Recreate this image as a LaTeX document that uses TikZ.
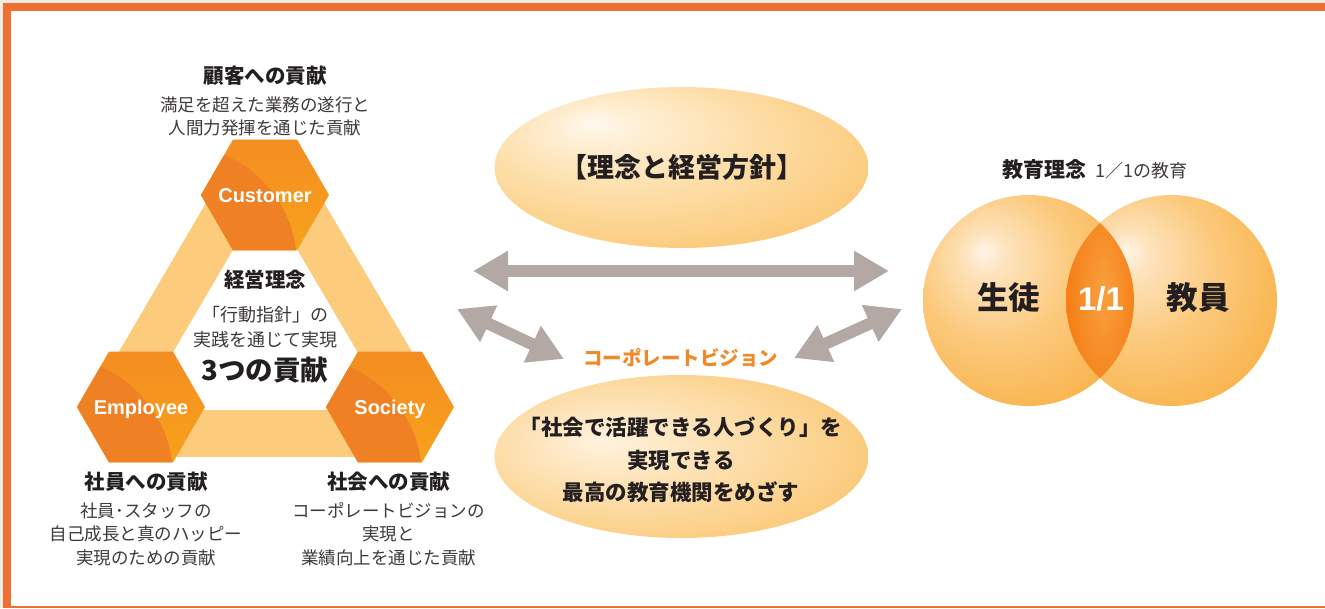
\documentclass[tikz,border=0pt]{standalone}
\usepackage{fontspec}
\usetikzlibrary{arrows.meta,shapes.geometric,calc}
\newfontfamily\jp{Noto Sans CJK JP}
\newfontfamily\lat{Liberation Sans}
\definecolor{frameor}{HTML}{F07033}
\definecolor{beige}{HTML}{F2ECE1}
\definecolor{band}{HTML}{FDCB7C}
\definecolor{hexA}{HTML}{F48D21}
\definecolor{hexB}{HTML}{F8A21C}
\definecolor{hexdark}{HTML}{EF8024}
\definecolor{arrowgray}{HTML}{B3A8A4}
\definecolor{txt}{HTML}{231F20}
\definecolor{txtl}{HTML}{3E3A39}
\definecolor{visor}{HTML}{F08A28}
\pgfdeclareradialshading{ellTop}{\pgfpoint{-12bp}{14bp}}{rgb(0bp)=(1,0.975,0.94); rgb(5bp)=(0.998,0.94,0.84); rgb(18bp)=(0.992,0.87,0.66); rgb(36bp)=(0.984,0.78,0.45); rgb(60bp)=(0.984,0.78,0.45)}
\pgfdeclareradialshading{ellBot}{\pgfpoint{-11bp}{5bp}}{rgb(0bp)=(1,0.95,0.87); rgb(8bp)=(0.996,0.91,0.77); rgb(20bp)=(0.99,0.85,0.62); rgb(34bp)=(0.984,0.78,0.45); rgb(60bp)=(0.984,0.78,0.45)}
\pgfdeclareradialshading{ballO}{\pgfpoint{-11bp}{12bp}}{rgb(0bp)=(1,0.96,0.91); rgb(5bp)=(0.996,0.89,0.74); rgb(18bp)=(0.985,0.79,0.49); rgb(36bp)=(0.976,0.69,0.27); rgb(60bp)=(0.976,0.69,0.27)}
\pgfdeclareradialshading{lensS}{\pgfpoint{3bp}{2bp}}{rgb(0bp)=(0.975,0.63,0.25); rgb(25bp)=(0.96,0.50,0.09); rgb(50bp)=(0.96,0.50,0.09)}
\tikzset{
  hexnode/.style={regular polygon, regular polygon sides=6, minimum size=128pt, inner sep=0pt,
    path picture={
      \shade[top color=hexA, bottom color=hexB] (path picture bounding box.south west) rectangle (path picture bounding box.north east);
      \fill[hexdark] ([shift={(-88,70)}]path picture bounding box.center) circle[radius=120];
    }},
  hexlabel/.style={anchor=base, text=white, font=\lat\bfseries\fontsize{20}{24}\selectfont},
  headtxt/.style={text=txt, font=\jp\bfseries\fontsize{20.5}{24}\selectfont},
  desctxt/.style={text=txtl, align=center, font=\jp\fontsize{17.5}{23.5}\selectfont},
  bandfill/.style={fill=band},
  bigarrow/.style={arrowgray, line width=12pt, {Triangle[length=35pt,width=38pt]}-{Triangle[length=35pt,width=38pt]}},
  oval/.style={ellipse, inner sep=0pt, minimum width=374pt},
  ovaltxt/.style={text=txt, align=center},
  venn/.style={circle, inner sep=0pt, minimum size=211pt, shade, shading=ballO},
}
\begin{document}
\begin{tikzpicture}[x=1pt,y=-1pt]
\useasboundingbox (0,0) rectangle (1325,608);
% frame
\fill[beige] (0,0) rectangle (1325,608);
\fill[white] (11,11) rectangle (1325,606);
\fill[frameor] (3,3) rectangle (1325,11);
\fill[frameor] (3,3) rectangle (11,608);
\fill[frameor] (3,606) rectangle (1325,607.6);

% triangle band
\coordinate (C) at (265,195);
\coordinate (E) at (141,407);
\coordinate (S) at (390,407);
\fill[bandfill] (C) -- (E) -- ([shift={(-40.6,-23.6)}]E) -- ([shift={(-40.6,-23.6)}]C) -- cycle;
\fill[bandfill] (S) -- (C) -- ([shift={(40.6,-23.6)}]C) -- ([shift={(40.6,-23.6)}]S) -- cycle;
\fill[bandfill] (141,410) -- (390,410) -- (390,457) -- (141,457) -- cycle;

% hexagons
\node[hexnode] (cust) at (C) {};
\node[hexnode] (empl) at (E) {};
\node[hexnode] (soc) at (S) {};
\node[hexlabel] at ([shift={(0,7)}]cust.center) {Customer};
\node[hexlabel] at ([shift={(0,7)}]empl.center) {Employee};
\node[hexlabel] at ([shift={(0,7)}]soc.center) {Society};

% texts around triangle
\node[headtxt] (custh) at (265,76) {顧客への貢献};
\node[desctxt] (custd) at (265,116.5) {満足を超えた業務の遂行と\\人間力発揮を通じた貢献};
\node[headtxt] (mgmt) at (265,280) {経営理念};
\node[desctxt, font=\jp\fontsize{18}{25}\selectfont] (mgmtd) at (265,327.5) {「行動指針」の\\実践を通じて実現};
\node[text=txt, font=\jp\bfseries\fontsize{27.5}{30}\selectfont] (three) at (265,370) {3つの貢献};
\node[headtxt] (emplh) at (146,482) {社員への貢献};
\node[desctxt] (empld) at (146,534) {社員･スタッフの\\自己成長と真のハッピー\\実現のための貢献};
\node[headtxt] (soch) at (388.5,482) {社会への貢献};
\node[desctxt] (socd) at (388.5,534) {コーポレートビジョンの\\実現と\\業績向上を通じた貢献};

% ovals
\node[oval, minimum height=161pt, shade, shading=ellTop] (policy) at (681.5,167.5) {};
\node[ovaltxt, font=\jp\bfseries\fontsize{27}{30}\selectfont] (policyt) at (681.5,167) {【理念と経営方針】};
\node[oval, minimum height=163pt, shade, shading=ellBot] (vision) at (681.5,456.5) {};
\node[ovaltxt, font=\jp\bfseries\fontsize{21.5}{32.5}\selectfont] (visiont) at (681,460) {「社会で活躍できる人づくり」を\\実現できる\\最高の教育機関をめざす};
\node[text=visor, font=\jp\bfseries\fontsize{19.5}{22}\selectfont] (visionh) at (680.5,358) {コーポレートビジョン};

% arrows
\coordinate (hL) at (473,271);
\coordinate (hR) at (889,271);
\coordinate (dL1) at (457,309);
\coordinate (dL2) at (564,359);
\coordinate (dR1) at (794,358);
\coordinate (dR2) at (902,309);
\draw[bigarrow] (hL) -- (hR);
\draw[bigarrow] (dL1) -- (dL2);
\draw[bigarrow] (dR1) -- (dR2);

% venn
\node[venn] (stud) at (1028.5,300.5) {};
\node[venn] (teach) at (1171.5,300.5) {};
\begin{scope}
  \clip (stud.center) circle[radius=105.5];
  \clip (teach.center) circle[radius=105.5];
  \shade[shading=lensS] (1066,195) rectangle (1134,406);
\end{scope}
\node[text=txt, font=\jp\bfseries\fontsize{31.5}{34}\selectfont] at (1008.5,298) {生徒};
\node[text=txt, font=\jp\bfseries\fontsize{31.5}{34}\selectfont] at (1198,298) {教員};
\node[text=white, anchor=base, font=\lat\bfseries\fontsize{33}{36}\selectfont] at (1101,310) {1/1};
\node[text=txt, font=\jp\bfseries\fontsize{21}{24}\selectfont] (edu) at (1095,170) {教育理念\hspace{9pt}{\mdseries\color{txtl}\fontsize{18}{22}\selectfont 1／1の教育}};
\end{tikzpicture}
\end{document}
